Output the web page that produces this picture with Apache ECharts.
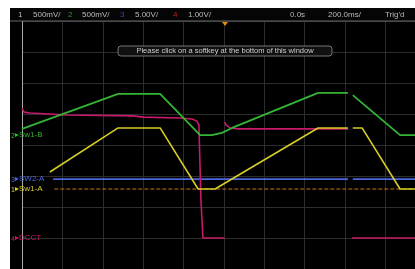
<!DOCTYPE html>
<html lang="en">

<head>
    <meta charset="UTF-8">
    <title>Scope capture</title>
    <style>
        * {
            padding: 0;
            margin: 0;
        }

        body {
            background: #fff;
            width: 415px;
            height: 269px;
            overflow: hidden;
        }

        #chart {
            position: absolute;
            left: 10px;
            top: 8px;
            width: 405px;
            height: 261px;
            background: #000;
        }
    </style>
</head>

<body>
    <div id="chart"></div>
    <script src="https://cdn.jsdelivr.net/npm/echarts@6/dist/echarts.min.js"></script>
    <script>
        let mychart = echarts.init(document.getElementById('chart'))

        // x in divisions (200ms/div), y in divisions from the bottom of the screen
        // '-' breaks a trace where the scope left a gap
        const sw1B = [
            [0, 4.52], [2.38, 5.65], [3.42, 5.65], [4.41, 4.32], [4.70, 4.32],
            [4.95, 4.39], [5.20, 4.55], [7.33, 5.68], [8.07, 5.68], [8.12, '-'],
            [8.19, 5.61], [9.36, 4.32], [9.73, 4.32]
        ]
        const dcct = [
            [0, 5.19], [0.05, 5.06], [0.20, 5.03], [1.11, 4.97], [2.75, 4.94],
            [3.0, 4.90], [3.91, 4.87], [4.21, 4.84], [4.33, 4.77], [4.38, 4.65],
            [4.43, 2.23], [4.48, 1.0], [5.02, 1.0], [5.02, '-'],
            [5.02, 4.74], [5.05, 4.65], [5.15, 4.55], [5.35, 4.52], [8.07, 4.52], [8.1, '-'],
            [8.17, 1.0], [9.73, 1.0]
        ]
        const sw1A = [
            [0.69, 3.13], [2.38, 4.55], [3.42, 4.55], [4.36, 2.58], [4.78, 2.58],
            [7.33, 4.55], [8.07, 4.55], [8.12, '-'], [8.19, 4.55], [8.42, 4.55],
            [9.36, 2.58], [9.73, 2.58]
        ]
        const sw2A = [[0.77, 2.90], [8.07, 2.90], [8.12, '-'], [8.19, 2.90], [9.73, 2.90]]
        const ch1Ground = [[0.8, 2.58], [9.73, 2.58]]

        const headerItems = [
            ['1', 8, '#bbb'], ['500mV/', 23, '#bbb'], ['2', 58, '#2e9a2e'], ['500mV/', 72, '#bbb'],
            ['3', 110, '#4040b0'], ['5.00V/', 125, '#bbb'], ['4', 163, '#c02020'], ['1.00V/', 178, '#bbb'],
            ['0.0s', 280, '#bbb'], ['200.0ms/', 318, '#bbb'], ["Trig'd", 375, '#bbb']
        ]
        // channel number, name, y level (divisions), colour
        const channelTags = [
            ['2', 'Sw1-B', 4.32, '#35b535'],
            ['3', 'SW2-A', 2.90, '#4c66e0'],
            ['1', 'Sw1-A', 2.58, '#d6cc28'],
            ['4', 'DCCT', 1.0, '#c81a6a']
        ]
        const message = 'Please click on a softkey at the bottom of this window'

        const gridLeft = 12
        const gridTop = 13
        const divH = 31

        let graphics = [{
            type: 'rect',
            shape: { x: 0, y: 0, width: 405, height: 13 },
            style: { fill: '#050505' },
            z: 1
        }, {
            type: 'line',
            shape: { x1: 0, y1: 13, x2: 405, y2: 13 },
            style: { stroke: '#666', lineWidth: 1 },
            z: 3
        }, {
            type: 'polygon',
            shape: { points: [[212, 14], [218, 14], [215, 18]] },
            style: { fill: '#e08a10' },
            z: 5
        }, {
            type: 'rect',
            shape: { x: 108, y: 38, width: 214, height: 10, r: 3 },
            style: { fill: '#111', stroke: '#777', lineWidth: 1 },
            z: 5
        }, {
            type: 'text',
            x: 215, y: 43,
            style: {
                text: message, fill: '#ccc', fontSize: 7.5, fontFamily: 'Liberation Sans',
                align: 'center', verticalAlign: 'middle'
            },
            z: 6
        }]

        headerItems.forEach(function (h) {
            graphics.push({
                type: 'text', x: h[1], y: 7,
                style: { text: h[0], fill: h[2], fontSize: 8, fontFamily: 'Liberation Sans', verticalAlign: 'middle' },
                z: 4
            })
        })

        channelTags.forEach(function (c) {
            const py = gridTop + (8 - c[2]) * divH
            graphics.push({
                type: 'text', x: 1, y: py + 1,
                style: { text: c[0], fill: c[3], fontSize: 7, fontFamily: 'Liberation Sans', verticalAlign: 'middle' },
                z: 7
            }, {
                type: 'polygon',
                shape: { points: [[5, py - 2], [9, py], [5, py + 2]] },
                style: { fill: c[3] },
                z: 7
            }, {
                type: 'text', x: 9, y: py,
                style: { text: c[1], fill: c[3], fontSize: 8, fontFamily: 'Liberation Sans', verticalAlign: 'middle' },
                z: 7
            })
        })

        function trace(name, data, color, width, type) {
            return {
                name: name,
                type: 'line',
                data: data,
                showSymbol: false,
                connectNulls: false,
                lineStyle: { color: color, width: width, type: type || 'solid' },
                z: 3
            }
        }

        let options = {
            animation: false,
            grid: {
                left: gridLeft,
                top: gridTop,
                right: 0,
                bottom: 0
            },
            xAxis: {
                type: 'value',
                min: 0,
                max: 9.73,
                interval: 1,
                axisLabel: { show: false },
                axisTick: { show: false },
                axisLine: { show: false },
                splitLine: { show: true, lineStyle: { color: '#2c2c2c', width: 1 } }
            },
            yAxis: {
                type: 'value',
                min: 0,
                max: 8,
                interval: 1,
                axisLabel: { show: false },
                axisTick: { show: false },
                axisLine: { show: true, lineStyle: { color: '#aaa', width: 1 } },
                splitLine: { show: true, lineStyle: { color: '#2c2c2c', width: 1 } }
            },
            graphic: graphics,
            series: [
                trace('ch1 ground', ch1Ground, '#c8780f', 1, 'dashed'),
                trace('Sw2-A', sw2A, '#4c66e0', 1.6),
                trace('DCCT', dcct, '#c81a6a', 1.6),
                trace('Sw1-A', sw1A, '#d6cc28', 1.6),
                trace('Sw1-B', sw1B, '#35b535', 1.8)
            ]
        }

        mychart.setOption(options);
    </script>
</body>

</html>
